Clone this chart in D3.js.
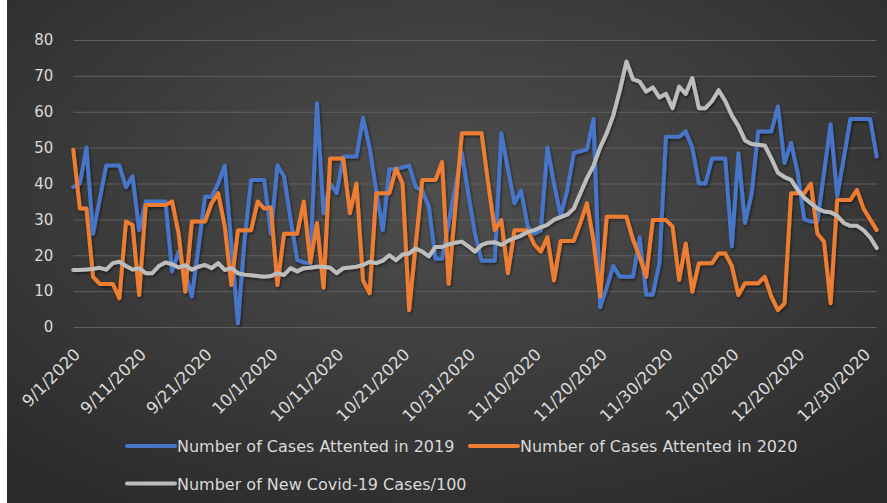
<!DOCTYPE html>
<html><head><meta charset="utf-8">
<script src="https://cdn.jsdelivr.net/npm/d3@7"></script>
<style>html,body{margin:0;padding:0;background:#fff;} svg{display:block;}</style>
</head><body><svg id="chart" width="887" height="503"></svg>
<script>
const startDate = "2020-09-01";
const tickLabels = ["9/1/2020","9/11/2020","9/21/2020","10/1/2020","10/11/2020","10/21/2020","10/31/2020","11/10/2020","11/20/2020","11/30/2020","12/10/2020","12/20/2020","12/30/2020"];
const yTicks = [0,10,20,30,40,50,60,70,80];
const seriesNames = ["Number of Cases Attented in 2019","Number of Cases Attented in 2020","Number of New Covid-19 Cases/100"];
const seriesColors = ["#4775C8","#ED7D31","#BDBDBD"];

const cases2019 = [39,40,50,26,35.5,45,45,45,39,42,27,35,35,35,35,15.5,21,15,8.5,22,
36.3,36.3,40,45,23,1,24,41,41,41,26,45,42,30,18.7,18,17.8,62.4,31.7,40,
37.3,47.5,47.5,47.5,58.3,50,38,27,44,44,44.5,45,39,38,33.5,19,19,29,39,48.5,
37,26,18.5,18.5,18.5,54,44,34.5,38,28,26,27,50,40,31,38,48.5,49,49.5,58,
5.5,11,17,14,14,14,25,9,9,17.8,53,53,53,54.5,50,40,40,47,47,47,
22.5,48.4,29,37,54.5,54.5,54.5,61.5,45.7,51.3,43,30,29.4,29.4,43,56.5,36.5,47,58,58,
58,58,47.5];

const cases2020 = [49.4,33,33,14,12,12,12,8,29.4,28.4,8.9,34,34,34,34,35,26,9.8,29.4,29.4,
29.4,34.5,37.3,28,11.7,27,27,27,35,33,33.3,11.7,26,26,26,35,18,29,10.9,47,
47,47,31.7,40,13,9.4,37.3,37.3,37.3,44.2,40,4.7,23,41,41,41,46,12,33,54,
54,54,54,40,27,29.8,15,27,27,27,23,21,25,13,24,24,24,29,34.5,24,
8.5,30.7,30.7,30.7,30.7,24.3,19.6,14,29.8,29.8,29.8,28,13.1,23.3,9.8,17.8,17.8,17.8,20.5,20.5,
17,8.9,12.2,12.2,12.2,14,8.5,4.7,6.6,37.3,37.3,37.3,40,26,23.8,6.6,35.4,35.4,35.4,38.2,
33,30,27];

const covid100 = [15.9,15.9,16,16.2,16.5,16,17.8,18.2,17,16,16.4,15,15,17,18,17.5,16.6,17.2,16,16.8,
17.3,16.4,17.8,15.9,16.4,15,14.6,14.4,14.2,14,14.2,15,14.5,16.4,15.5,16.4,16.5,16.8,16.8,16.5,
15,16.4,16.6,16.8,17.3,18.2,17.8,18.5,20,18.6,20.2,20.5,21.9,21,19.7,22.3,22.3,23,23.5,23.8,
22.5,21,22.9,23.5,23.6,22.9,24,24.8,25.5,26.5,27,27.8,28.5,29.9,30.6,31.3,33,37.3,41.5,45,
50,54,59,66,74,69,68.4,65.6,66.8,64,65,61,67,65,69.4,61,61,63,66,63,
59,56,52,51,50.8,50.6,47,43,41.8,41,38.2,36,34.5,33,32.2,32,31,29,28.2,28.2,
27,25,22];

const W = 887, H = 503;
const svg = d3.select("#chart");
const defs = svg.append("defs");
const rg = defs.append("radialGradient").attr("id","bg")
  .attr("cx","50%").attr("cy","38%").attr("r","75%");
rg.append("stop").attr("offset","0%").attr("stop-color","#4f4f4f");
rg.append("stop").attr("offset","100%").attr("stop-color","#2a2a2a");
const f = defs.append("filter").attr("id","sh").attr("x","-5%").attr("y","-5%").attr("width","110%").attr("height","110%");
f.append("feDropShadow").attr("dx",1).attr("dy",1.5).attr("stdDeviation",1.5)
  .attr("flood-color","#000").attr("flood-opacity",0.55);

svg.append("rect").attr("x",7).attr("y",0).attr("width",W-7).attr("height",H).attr("fill","url(#bg)");

const parse = d3.utcParse("%Y-%m-%d");
const d0 = parse(startDate);
const dates = d3.utcDay.range(d0, d3.utcDay.offset(d0, cases2019.length));
const tickDates = tickLabels.map((_, k) => dates[k*10]);

const x = d3.scaleUtc().domain([dates[0], dates[dates.length-1]]).range([73.3, 876.7]);
const y = d3.scaleLinear().domain([0,80]).range([327,40]);

const font = "'DejaVu Sans', sans-serif";

// Y axis with gridlines
const gy = svg.append("g").attr("transform","translate(73.3,0)")
  .call(d3.axisLeft(y).tickValues(yTicks).tickSize(-(876.7-73.3)).tickPadding(20));
gy.select(".domain").remove();
gy.selectAll(".tick line").attr("stroke","#5f5f5f").attr("stroke-width",1);
gy.selectAll(".tick text").attr("fill","#d9d9d9").attr("font-family",font).attr("font-size","15px");

// X axis
const gx = svg.append("g").attr("transform","translate(0,327)")
  .call(d3.axisBottom(x).tickValues(tickDates).tickFormat((d,i)=>tickLabels[i]).tickSize(0));
gx.select(".domain").remove();
gx.selectAll(".tick text")
  .attr("fill","#d9d9d9").attr("font-family",font).attr("font-size","16.5px")
  .attr("text-anchor","end").attr("x",0).attr("y",0).attr("dy",0)
  .attr("transform","translate(7.5,28.5) rotate(-45)");

// Lines
const allSeries = [cases2019, cases2020, covid100];
const line = d3.line().x((d,i)=>x(dates[i])).y(d=>y(d));
const lg = svg.append("g").attr("filter","url(#sh)");
allSeries.forEach((s, k) => {
  lg.append("path").datum(s).attr("d", line)
    .attr("fill","none").attr("stroke", seriesColors[k]).attr("stroke-width",4)
    .attr("stroke-linejoin","round").attr("stroke-linecap","round");
});

// Legend
const legendPos = [[127,446],[470,446],[127,483.5]];
const leg = svg.append("g");
seriesNames.forEach((name,k) => {
  const [lx, ly] = legendPos[k];
  leg.append("line").attr("x1",lx).attr("x2",lx+48).attr("y1",ly).attr("y2",ly)
    .attr("stroke",seriesColors[k]).attr("stroke-width",4).attr("stroke-linecap","round");
  leg.append("text").attr("x",lx+50).attr("y",ly+6)
    .attr("fill","#d9d9d9").attr("font-family",font).attr("font-size","16px")
    .text(name);
});
</script></body></html>
